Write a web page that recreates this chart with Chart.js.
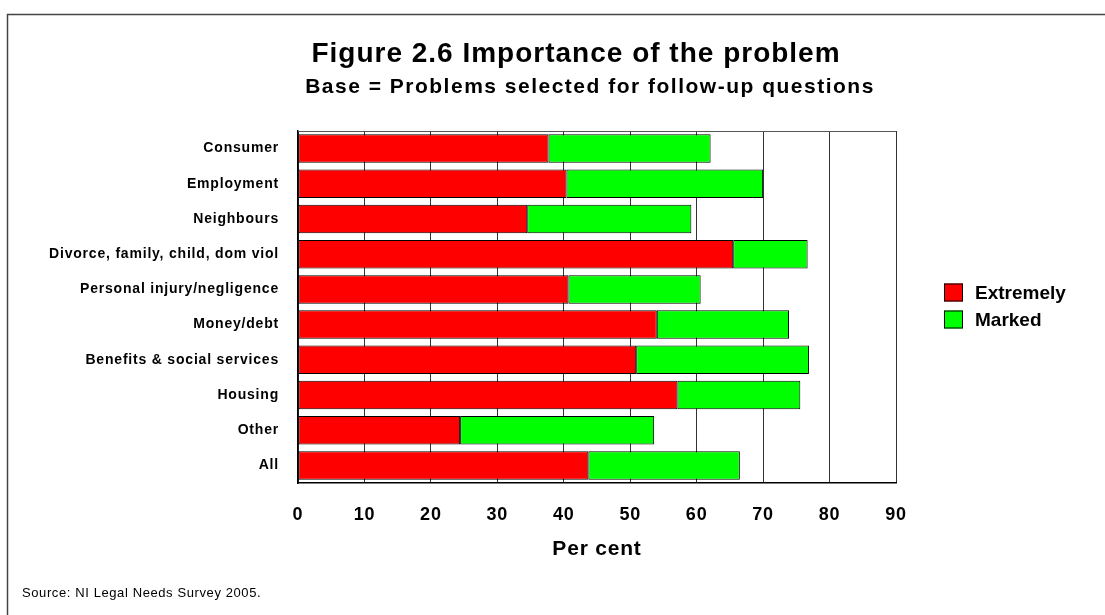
<!DOCTYPE html>
<html>
<head>
<meta charset="utf-8">
<script src="https://cdn.jsdelivr.net/npm/chart.js@4"></script>
<style>
  html, body { margin: 0; padding: 0; background: #fff; }
  canvas { display: block; }
</style>
</head>
<body>
<canvas id="c" width="1105" height="615"></canvas>
<script>
// Problem categories, top to bottom
const categories = [
  'Consumer', 'Employment', 'Neighbours', 'Divorce, family, child, dom viol',
  'Personal injury/negligence', 'Money/debt', 'Benefits & social services',
  'Housing', 'Other', 'All'
];
// Per cent rating the problem as extremely / markedly important
const extremely = [37.7, 40.4, 34.5, 65.5, 40.7, 54.0, 50.9, 57.1, 24.4, 43.7];
const marked    = [24.4, 29.6, 24.7, 11.2, 19.9, 19.9, 26.0, 18.5, 29.2, 22.8];
const seriesNames = ['Extremely', 'Marked'];
const xTickValues = [0, 10, 20, 30, 40, 50, 60, 70, 80, 90];

const FONT = '"Liberation Sans", Arial, Helvetica, sans-serif';

// Frame, headings, legend and source note drawn around the plot
const decorations = {
  id: 'decorations',
  beforeDraw(chart) {
    const ctx = chart.ctx;
    ctx.save();
    ctx.fillStyle = '#fff';
    ctx.fillRect(0, 0, chart.width, chart.height);
    ctx.restore();
    // slightly spaced lettering for the axis text
    ctx.letterSpacing = '0.8px';
  },
  beforeDatasetsDraw(chart) {
    const { ctx, chartArea: a } = chart;
    ctx.save();
    ctx.strokeStyle = '#555';
    ctx.lineWidth = 1;
    ctx.beginPath();
    ctx.moveTo(a.left, a.top + 0.5);
    ctx.lineTo(a.right, a.top + 0.5);
    ctx.stroke();
    ctx.restore();
  },
  afterDraw(chart) {
    const ctx = chart.ctx;
    ctx.save();
    // outer frame
    ctx.strokeStyle = '#444';
    ctx.lineWidth = 1.5;
    ctx.beginPath();
    ctx.moveTo(7.5, chart.height);
    ctx.lineTo(7.5, 14.5);
    ctx.lineTo(chart.width, 14.5);
    ctx.stroke();

    // headings
    ctx.fillStyle = '#000';
    ctx.textAlign = 'center';
    ctx.textBaseline = 'alphabetic';
    ctx.letterSpacing = '1px';
    ctx.font = 'bold 28px ' + FONT;
    ctx.fillText('Figure 2.6 Importance of the problem', 576, 62);
    ctx.letterSpacing = '1.5px';
    ctx.font = 'bold 21px ' + FONT;
    ctx.fillText('Base = Problems selected for follow-up questions', 590, 93);

    // legend
    ctx.letterSpacing = '0px';
    const ds = chart.data.datasets;
    const ys = [292.5, 319.5];
    ds.forEach((d, i) => {
      ctx.fillStyle = d.backgroundColor;
      ctx.fillRect(944, ys[i] - 9, 19, 18);
      ctx.strokeStyle = '#000';
      ctx.lineWidth = 1;
      ctx.strokeRect(944.5, ys[i] - 8.5, 18, 17);
      ctx.fillStyle = '#000';
      ctx.textAlign = 'left';
      ctx.textBaseline = 'middle';
      ctx.font = 'bold 19px ' + FONT;
      ctx.fillText(d.label, 975, ys[i] + 1.5);
    });

    // source note
    ctx.letterSpacing = '0.6px';
    ctx.font = '13px ' + FONT;
    ctx.textAlign = 'left';
    ctx.textBaseline = 'alphabetic';
    ctx.fillText('Source: NI Legal Needs Survey 2005.', 22, 597);
    ctx.restore();
  }
};

new Chart(document.getElementById('c'), {
  type: 'bar',
  data: {
    labels: categories,
    datasets: [
      { label: seriesNames[0], data: extremely, backgroundColor: '#ff0000' },
      { label: seriesNames[1], data: marked, backgroundColor: '#00ff00' }
    ]
  },
  options: {
    indexAxis: 'y',
    responsive: false,
    animation: false,
    devicePixelRatio: 1,
    layout: { padding: { top: 131, right: 209, bottom: 0, left: 0 } },
    datasets: {
      bar: {
        borderColor: '#000',
        borderWidth: 1,
        borderSkipped: false,
        categoryPercentage: 0.9,
        barPercentage: 0.9
      }
    },
    plugins: {
      legend: { display: false },
      title: { display: false },
      tooltip: { enabled: false }
    },
    scales: {
      x: {
        stacked: true,
        min: 0,
        max: 90,
        afterBuildTicks(scale) {
          scale.ticks = xTickValues.map(v => ({ value: v }));
        },
        afterFit(scale) { scale.height = 132; },
        grid: { color: '#333', lineWidth: 1, drawTicks: false },
        border: { display: true, color: '#000', width: 1.5 },
        ticks: {
          padding: 21,
          color: '#000',
          font: { family: FONT, size: 18, weight: 'bold' }
        },
        title: {
          display: true,
          text: 'Per cent',
          color: '#000',
          font: { family: FONT, size: 21, weight: 'bold' },
          padding: { top: 0, bottom: 53 }
        }
      },
      y: {
        stacked: true,
        afterFit(scale) { scale.width = 298; },
        grid: { display: false, drawTicks: false },
        border: { display: true, color: '#000', width: 1.5 },
        ticks: {
          padding: 19,
          color: '#000',
          font: { family: FONT, size: 14, weight: 'bold' }
        }
      }
    }
  },
  plugins: [decorations]
});
</script>
</body>
</html>
